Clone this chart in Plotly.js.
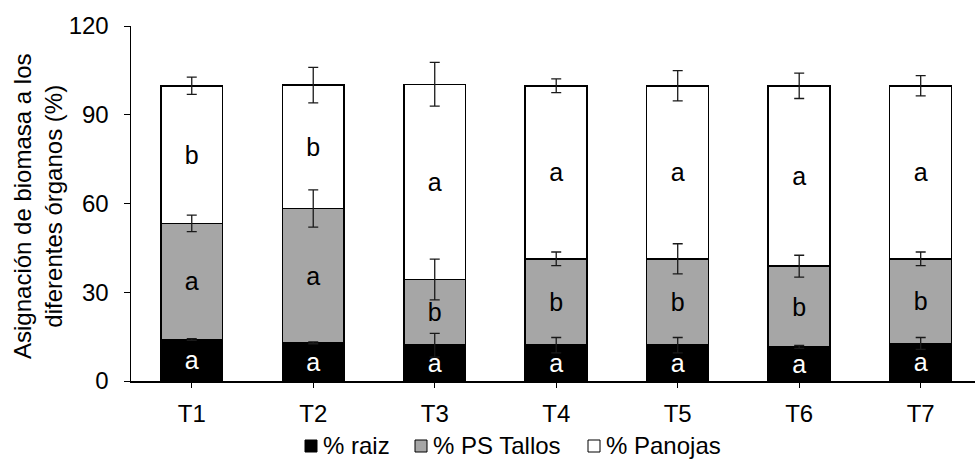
<!DOCTYPE html>
<html>
<head>
<meta charset="utf-8">
<script src="https://cdn.plot.ly/plotly-3.0.1.min.js"></script>
<style>html,body{margin:0;padding:0;background:#fff;}#chart{width:975px;height:459px;}</style>
</head>
<body>
<div id="chart"></div>
<script>
const categories = ["T1", "T2", "T3", "T4", "T5", "T6", "T7"];
const raiz = [14.0, 12.9, 12.1, 12.1, 12.1, 11.5, 12.7];
const tallos = [39.3, 45.4, 22.2, 29.2, 29.2, 27.3, 28.6];
const panojas = [46.5, 41.7, 66.0, 58.5, 58.5, 61.0, 58.5];
const errRaiz = [0.3, 0.3, 4.0, 2.6, 2.6, 0.5, 2.0];
const errTallos = [2.8, 6.3, 6.9, 2.3, 5.1, 3.7, 2.3];
const errPanojas = [2.9, 6.0, 7.4, 2.3, 5.1, 4.3, 3.4];
const letRaiz = ["a", "a", "a", "a", "a", "a", "a"];
const letTallos = ["a", "a", "b", "b", "b", "b", "b"];
const letPanojas = ["b", "b", "a", "a", "a", "a", "a"];
const seriesNames = ["% raiz", "% PS Tallos", "% Panojas"];
const seriesColors = ["#000000", "#a6a6a6", "#ffffff"];
const yTitle = "Asignación de biomasa a los<br>diferentes órganos (%)";

const FONT = "Liberation Sans, Arial, sans-serif";
const topTallos = raiz.map((v, i) => v + tallos[i]);
const topPanojas = topTallos.map((v, i) => v + panojas[i]);

// plot area geometry (pixels)
const M = {l: 131, r: 0, t: 26, b: 78};
const W = 975, H = 459;
const PW = W - M.l - M.r, PH = H - M.t - M.b;
const px2x = p => (p - M.l) / PW;
const px2y = p => (H - M.b - p) / PH;

function barTrace(name, y, color, text, textColor) {
  return {
    type: "bar", name: name, x: categories, y: y,
    marker: {color: color, line: {color: "#000", width: 1.5}},
    text: text, textposition: "inside", insidetextanchor: "middle",
    textangle: 0, constraintext: "none",
    textfont: {family: FONT, size: 25, color: textColor},
    showlegend: false, hoverinfo: "skip"
  };
}
function errTrace(y, err) {
  return {
    type: "scatter", mode: "markers", x: categories, y: y,
    marker: {size: 1, opacity: 0},
    error_y: {type: "data", array: err, visible: true, color: "#1a1a1a", thickness: 1.3, width: 5},
    showlegend: false, hoverinfo: "skip"
  };
}

const data = [
  barTrace(seriesNames[0], raiz, seriesColors[0], letRaiz, "#ffffff"),
  barTrace(seriesNames[1], tallos, seriesColors[1], letTallos, "#000000"),
  barTrace(seriesNames[2], panojas, seriesColors[2], letPanojas, "#000000"),
  errTrace(raiz, errRaiz),
  errTrace(topTallos, errTallos),
  errTrace(topPanojas, errPanojas)
];

// custom legend (symbol squares + labels) below the axis
const legSymX = [305, 415, 588];
const legY = 445;
const legShapes = seriesNames.map((n, i) => ({
  type: "rect", xref: "paper", yref: "paper",
  x0: px2x(legSymX[i]), x1: px2x(legSymX[i] + 12),
  y0: px2y(legY + 7), y1: px2y(legY - 5),
  fillcolor: seriesColors[i], line: {color: "#000", width: 1}
}));
const legAnn = seriesNames.map((n, i) => ({
  xref: "paper", yref: "paper",
  x: px2x(legSymX[i] + 16), y: px2y(legY),
  xanchor: "left", yanchor: "middle",
  text: n, showarrow: false,
  font: {family: FONT, size: 24, color: "#000"}
}));
const titleAnn = {
  xref: "paper", yref: "paper",
  x: px2x(38), y: px2y(206),
  xanchor: "center", yanchor: "middle",
  text: yTitle, showarrow: false, textangle: -90,
  font: {family: FONT, size: 24, color: "#000"}
};

const layout = {
  width: W, height: H,
  margin: M,
  paper_bgcolor: "#fff", plot_bgcolor: "#fff",
  barmode: "stack", bargap: 0.49,
  font: {family: FONT, size: 24, color: "#000"},
  xaxis: {
    type: "category", range: [-0.5, 6.447],
    showline: true, linecolor: "#000", linewidth: 1.5,
    ticks: "outside", ticklen: 5, tickcolor: "#000",
    showgrid: false, zeroline: false,
    ticklabelstandoff: 6,
    tickfont: {family: FONT, size: 24, color: "#000"}
  },
  yaxis: {
    range: [0, 120], tickvals: [0, 30, 60, 90, 120],
    showline: true, linecolor: "#000", linewidth: 1.5,
    ticks: "outside", ticklen: 6, tickcolor: "#000",
    showgrid: false, zeroline: false,
    ticklabelstandoff: 10,
    tickfont: {family: FONT, size: 24, color: "#000"}
  },
  shapes: legShapes,
  annotations: legAnn.concat([titleAnn]),
  showlegend: false
};

Plotly.newPlot("chart", data, layout, {displayModeBar: false, staticPlot: true});
</script>
</body>
</html>
